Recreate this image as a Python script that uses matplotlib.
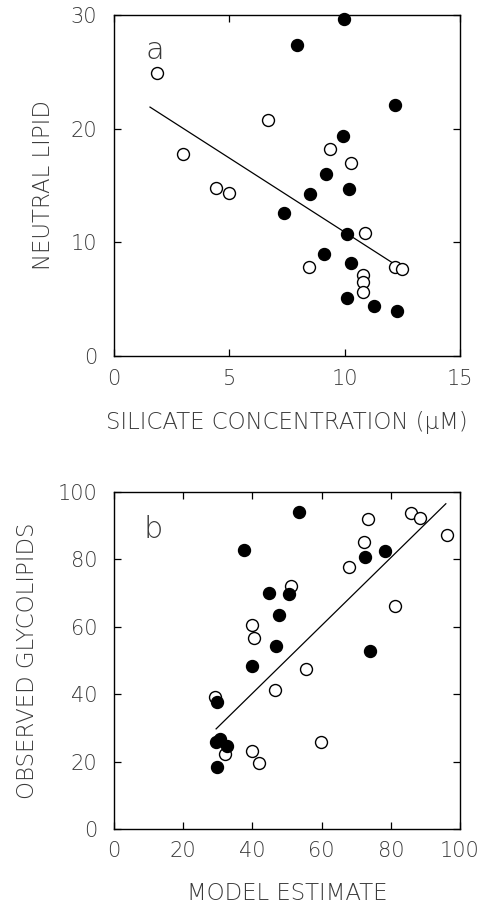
import matplotlib
matplotlib.use("Agg")
import matplotlib.pyplot as plt

# Panel a: neutral lipid vs silicate concentration
a_open_x = [1.85, 2.98, 4.42, 4.97, 6.69, 8.45, 9.38, 10.29, 10.9, 10.78, 10.78, 10.78, 12.18, 12.5]
a_open_y = [24.9, 17.8, 14.75, 14.3, 20.8, 7.8, 18.2, 17.0, 10.85, 7.1, 6.5, 5.6, 7.8, 7.7]
a_fill_x = [9.97, 7.95, 12.18, 9.91, 9.19, 8.48, 10.17, 7.37, 10.12, 9.12, 10.26, 10.12, 11.27, 12.25]
a_fill_y = [29.65, 27.4, 22.1, 19.4, 16.0, 14.25, 14.66, 12.6, 10.73, 8.94, 8.15, 5.07, 4.43, 3.99]
a_line_x = [1.56, 12.15]
a_line_y = [21.9, 8.1]

# Panel b: observed glycolipids vs model estimate
b_open_x = [29.2, 32.1, 39.8, 40.4, 39.9, 41.9, 46.4, 51.1, 55.5, 59.8, 68.0, 72.3, 73.4, 81.1, 85.8, 88.3, 96.1]
b_open_y = [39.2, 22.2, 60.4, 56.6, 23.2, 19.5, 41.2, 72.0, 47.4, 25.7, 77.6, 85.3, 91.9, 66.3, 93.8, 92.4, 87.2]
b_fill_x = [29.8, 29.5, 30.6, 32.6, 29.8, 37.7, 40.0, 44.8, 47.6, 46.7, 50.6, 53.5, 72.4, 74.0, 78.3]
b_fill_y = [37.6, 25.9, 26.8, 24.7, 18.3, 82.8, 48.3, 70.1, 63.4, 54.2, 69.7, 94.0, 80.7, 52.9, 82.5]
b_line_x = [29.5, 95.9]
b_line_y = [29.7, 96.5]

a_xticks = [0, 5, 10, 15]
a_yticks = [0, 10, 20, 30]
b_xticks = [0, 20, 40, 60, 80, 100]
b_yticks = [0, 20, 40, 60, 80, 100]

plt.rcParams['font.family'] = ['DejaVu Sans']
plt.rcParams['font.weight'] = 'light'
txtc = '#3a3a3a'
fs_tick = 15
fs_lab = 16.5

fig = plt.figure(figsize=(4.85, 9.05), dpi=100)
ax1 = fig.add_axes([0.2351, 0.6066, 0.7134, 0.3768])
ax2 = fig.add_axes([0.2351, 0.0840, 0.7134, 0.3724])

ms = 8.6
def style(ax, xt, yt, xl, yl, xl_y, yl_x):
    ax.set_xticks(xt)
    ax.set_yticks(yt)
    ax.set_xlim(xt[0], xt[-1])
    ax.set_ylim(yt[0], yt[-1])
    ax.tick_params(direction='in', top=True, right=True, length=5, width=0.9,
                   labelsize=fs_tick, labelcolor=txtc)
    ax.tick_params(axis='y', pad=12)
    ax.tick_params(axis='x', pad=9)
    for s in ax.spines.values():
        s.set_linewidth(1.0)
    for lab in ax.get_xticklabels() + ax.get_yticklabels():
        lab.set_fontweight('light')
    ax.set_xlabel(xl, fontsize=fs_lab, color=txtc, va='center', fontweight='light')
    ax.set_ylabel(yl, fontsize=fs_lab, color=txtc, va='center', fontweight='light')
    ax.xaxis.set_label_coords(0.5, xl_y)
    ax.yaxis.set_label_coords(yl_x, 0.5)

ax1.plot(a_line_x, a_line_y, color='black', lw=0.9, zorder=2)
ax1.plot(a_open_x, a_open_y, 'o', ms=ms, mfc='white', mec='black', mew=1.0, zorder=3, clip_on=False)
ax1.plot(a_fill_x, a_fill_y, 'o', ms=ms, mfc='black', mec='black', mew=1.0, zorder=4, clip_on=False)
ax1.text(1.78, 26.9, 'a', fontsize=22, color=txtc, ha='center', va='center', fontweight='light')
style(ax1, a_xticks, a_yticks, 'SILICATE CONCENTRATION (μM)', 'NEUTRAL LIPID', -0.194, -0.205)

ax2.plot(b_line_x, b_line_y, color='black', lw=0.9, zorder=2)
ax2.plot(b_open_x, b_open_y, 'o', ms=ms, mfc='white', mec='black', mew=1.0, zorder=3, clip_on=False)
ax2.plot(b_fill_x, b_fill_y, 'o', ms=ms, mfc='black', mec='black', mew=1.0, zorder=4, clip_on=False)
ax2.text(11.4, 89.0, 'b', fontsize=22, color=txtc, ha='center', va='center', fontweight='light')
style(ax2, b_xticks, b_yticks, 'MODEL ESTIMATE', 'OBSERVED GLYCOLIPIDS', -0.19, -0.251)

fig.savefig('out.png', dpi=100)
